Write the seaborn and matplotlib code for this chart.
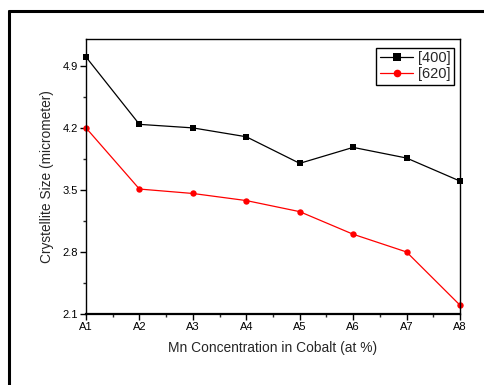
import matplotlib
matplotlib.use("Agg")
import matplotlib.pyplot as plt
import seaborn as sns
import pandas as pd
from matplotlib.lines import Line2D
from matplotlib.ticker import AutoMinorLocator

samples = ["A1", "A2", "A3", "A4", "A5", "A6", "A7", "A8"]
size_400 = [5.00, 4.24, 4.20, 4.10, 3.80, 3.98, 3.86, 3.60]
size_620 = [4.20, 3.51, 3.46, 3.38, 3.255, 3.00, 2.80, 2.20]
series_names = ["[400]", "[620]"]
yticks = [2.1, 2.8, 3.5, 4.2, 4.9]

sns.set_style("ticks")
plt.rcParams["font.family"] = ["Liberation Sans", "DejaVu Sans"]

df = pd.DataFrame({
    "x": list(range(len(samples))) * 2,
    "size": size_400 + size_620,
    "series": [series_names[0]] * len(samples) + [series_names[1]] * len(samples),
})

fig = plt.figure(figsize=(4.85, 3.85), dpi=100)
ax = fig.add_axes([0.1773, 0.1844, 0.7711, 0.7136])

sns.lineplot(data=df, x="x", y="size", hue="series", style="series",
             palette={"[400]": "black", "[620]": "red"},
             markers={"[400]": "s", "[620]": "o"}, dashes=False,
             markersize=4.6, markeredgewidth=0, linewidth=0.9, ax=ax,
             legend=False, clip_on=False)

ax.set_xlim(0, len(samples) - 1)
ax.set_ylim(2.1, 5.2)
ax.set_xticks(range(len(samples)))
ax.set_xticklabels(samples)
ax.set_yticks(yticks)
ax.set_yticklabels([f"{v:.1f}" for v in yticks])
ax.xaxis.set_minor_locator(AutoMinorLocator(2))
ax.yaxis.set_minor_locator(AutoMinorLocator(2))
ax.tick_params(which="major", direction="out", length=4, width=1, labelsize=8, pad=2, colors="black")
ax.tick_params(which="minor", direction="out", length=2, width=1)
for s in ["top", "right", "left"]:
    ax.spines[s].set_linewidth(1.0)
ax.spines["bottom"].set_linewidth(1.6)
for s in ax.spines.values():
    s.set_color("black")

ax.set_xlabel("Mn Concentration in Cobalt (at %)", fontsize=9.9, labelpad=6)
ax.set_ylabel("Crystellite Size (micrometer)", fontsize=9.9, labelpad=6)

handles = [Line2D([], [], color="black", marker="s", markersize=5.5, markeredgewidth=0, linewidth=0.9),
           Line2D([], [], color="red", marker="o", markersize=5.5, markeredgewidth=0, linewidth=0.9)]
leg = ax.legend(handles, series_names, loc="upper right", fontsize=10.5, frameon=True,
                fancybox=False, edgecolor="black", framealpha=1, handlelength=2.3,
                borderpad=0.25, labelspacing=0.15, handletextpad=0.3,
                borderaxespad=0, bbox_to_anchor=(0.984, 0.970))
leg.get_frame().set_linewidth(1.0)

# outer frame (top and left edges)
fig.add_artist(Line2D([0.0186, 0.0186], [0.0, 0.9727], transform=fig.transFigure, color="black", linewidth=2.2))
fig.add_artist(Line2D([0.0186, 1.0], [0.9727, 0.9727], transform=fig.transFigure, color="black", linewidth=2.2))

fig.savefig("out.png", dpi=100)
